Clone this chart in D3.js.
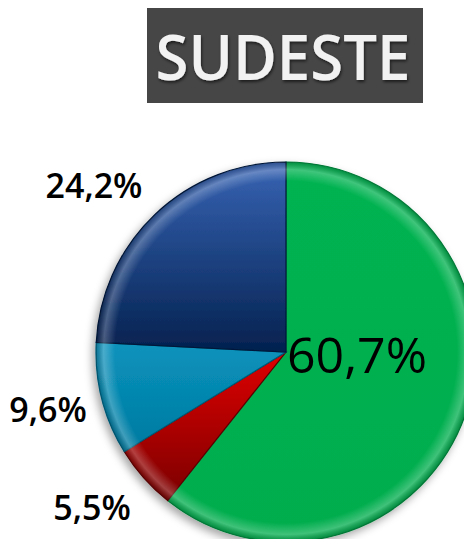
<!DOCTYPE html>
<html lang="pt">
<head>
  <meta charset="utf-8">
  <title>Sudeste</title>
  <script src="https://d3js.org/d3.v7.min.js"></script>
  <style>
    body { margin: 0; background: #fff; }
  </style>
</head>
<body>
<script>
// data, in drawing order clockwise from 12 o'clock
var regions = ["A", "B", "C", "D"];
var shares = [60.7, 5.5, 9.6, 24.2];
var labels = ["60,7%", "5,5%", "9,6%", "24,2%"];
var title = "SUDESTE";

var w = 464, h = 539;
var cx = 286, cy = 352, r = 190;

var svg = d3.select("body").append("svg")
  .attr("width", w)
  .attr("height", h);

var defs = svg.append("defs");

// gradients for each slice (light top -> dark bottom)
var grads = [
  ["#00b351", "#00ad4e"],
  ["#e00000", "#7a0000"],
  ["#0a93bd", "#007aa0"],
  ["#3764b4", "#04214f"]
];
grads.forEach(function(g, i) {
  var lg = defs.append("linearGradient")
    .attr("id", "g" + i)
    .attr("x1", 0).attr("y1", 0).attr("x2", 0).attr("y2", 1);
  lg.append("stop").attr("offset", "0%").attr("stop-color", g[0]);
  lg.append("stop").attr("offset", "100%").attr("stop-color", g[1]);
});

// bevel rim
var rim = defs.append("radialGradient").attr("id", "rim")
  .attr("cx", "50%").attr("cy", "50%").attr("r", "50%");
rim.append("stop").attr("offset", "90%").attr("stop-color", "#fff").attr("stop-opacity", 0);
rim.append("stop").attr("offset", "96%").attr("stop-color", "#fff").attr("stop-opacity", 0.25);
rim.append("stop").attr("offset", "100%").attr("stop-color", "#000").attr("stop-opacity", 0.2);

var shadow = defs.append("filter").attr("id", "shadow")
  .attr("x", "-20%").attr("y", "-20%").attr("width", "140%").attr("height", "140%");
shadow.append("feDropShadow")
  .attr("dx", -3).attr("dy", 4).attr("stdDeviation", 4)
  .attr("flood-color", "#000").attr("flood-opacity", 0.35);

var tshadow = defs.append("filter").attr("id", "tshadow");
tshadow.append("feDropShadow")
  .attr("dx", 1).attr("dy", 2).attr("stdDeviation", 1.5)
  .attr("flood-color", "#000").attr("flood-opacity", 0.6);

// title box
svg.append("rect")
  .attr("x", 147).attr("y", 8)
  .attr("width", 276).attr("height", 95)
  .attr("fill", "#464646");

svg.append("text")
  .attr("x", 283).attr("y", 80)
  .attr("text-anchor", "middle")
  .attr("font-family", "'Open Sans', sans-serif")
  .attr("font-weight", 600)
  .attr("font-size", 64)
  .attr("textLength", 255)
  .attr("lengthAdjust", "spacingAndGlyphs")
  .attr("fill", "#f2f2f2")
  .attr("filter", "url(#tshadow)")
  .text(title);

var pie = d3.pie().sort(null).value(function(d) { return d; });
var arcs = pie(shares);
var arc = d3.arc().innerRadius(0).outerRadius(r);

var g = svg.append("g").attr("transform", "translate(" + cx + "," + cy + ")");

var slices = g.append("g").attr("filter", "url(#shadow)");
slices.selectAll("path")
  .data(arcs)
  .enter()
  .append("path")
  .attr("d", arc)
  .attr("fill", function(d, i) { return "url(#g" + i + ")"; })
  .attr("stroke", function(d, i) { return d3.color(grads[i][1]).darker(0.8); })
  .attr("stroke-width", 1.2);

g.append("circle")
  .attr("r", r)
  .attr("fill", "url(#rim)")
  .attr("pointer-events", "none");

// labels
var labelPos = [
  { x: 357, y: 373, size: 50, weight: 400, anchor: "middle" },
  { x: 92, y: 520, size: 34, weight: 600, anchor: "middle" },
  { x: 48, y: 422, size: 34, weight: 600, anchor: "middle" },
  { x: 94, y: 198, size: 34, weight: 600, anchor: "middle" }
];

svg.selectAll("text.lbl")
  .data(labels)
  .enter()
  .append("text")
  .attr("class", "lbl")
  .attr("x", function(d, i) { return labelPos[i].x; })
  .attr("y", function(d, i) { return labelPos[i].y; })
  .attr("text-anchor", function(d, i) { return labelPos[i].anchor; })
  .attr("font-family", "'Open Sans', sans-serif")
  .attr("font-size", function(d, i) { return labelPos[i].size; })
  .attr("font-weight", function(d, i) { return labelPos[i].weight; })
  .attr("fill", "#000")
  .text(function(d) { return d; });
</script>
</body>
</html>
